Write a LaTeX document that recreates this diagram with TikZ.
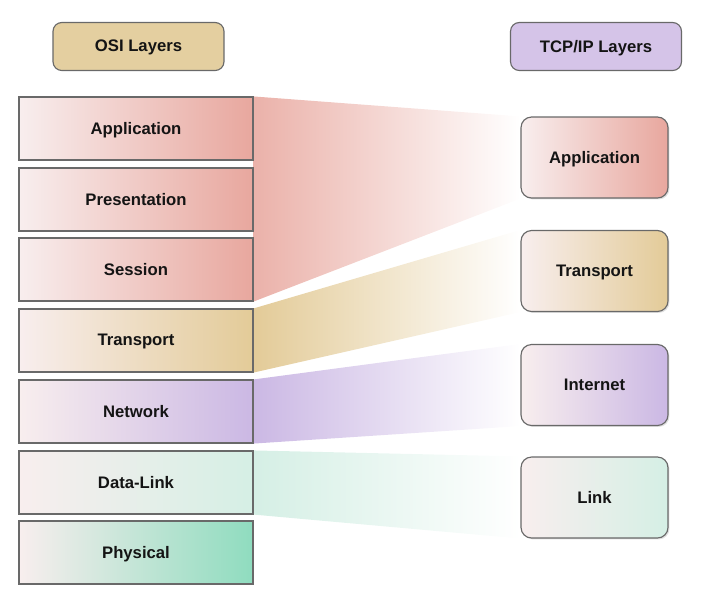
\documentclass[tikz,border=0pt]{standalone}
\usepackage{fontspec}
\setmainfont{Liberation Sans}
\usetikzlibrary{shadows,backgrounds}
\definecolor{boxgray}{RGB}{105,105,105}
\definecolor{paleside}{RGB}{248,238,238}
\definecolor{osired}{RGB}{232,167,158}
\definecolor{ositan}{RGB}{227,203,152}
\definecolor{osililac}{RGB}{203,184,228}
\definecolor{osimint}{RGB}{213,239,229}
\definecolor{osigreen}{RGB}{143,220,191}
\definecolor{headtan}{RGB}{228,207,160}
\definecolor{headlilac}{RGB}{213,196,232}

\begin{document}
\begin{tikzpicture}[x=0.02cm, y=-0.02cm,
    every node/.style={text=black!92, font=\bfseries\fontsize{9.5}{11}\selectfont, text depth=0.5pt},
    header/.style={draw=boxgray, line width=0.65pt, rounded corners=5pt, minimum width=3.42cm, minimum height=0.96cm},
    osibox/.style={draw=boxgray, line width=0.65pt, minimum width=4.68cm, minimum height=1.26cm, left color=paleside, right color=#1,
      drop shadow={shadow xshift=0.5pt, shadow yshift=-0.5pt, opacity=0.2}},
    tcpbox/.style={draw=boxgray, line width=0.65pt, rounded corners=6pt, minimum width=2.94cm, minimum height=1.62cm, left color=paleside, right color=#1,
      drop shadow={shadow xshift=0.8pt, shadow yshift=-0.8pt, opacity=0.25}}
  ]
  \useasboundingbox (0,0) rectangle (703,613);

  % headings
  \node[header, fill=headtan] (osihead) at (138.5,46.5) {OSI Layers};
  \node[header, fill=headlilac] (tcphead) at (596,46.5) {TCP/IP Layers};

  % OSI stack
  \node[osibox=osired] (osiapp) at (136,128.5) {Application};
  \node[osibox=osired] (osipre) at (136,199.5) {Presentation};
  \node[osibox=osired] (osises) at (136,269.5) {Session};
  \node[osibox=ositan] (ositra) at (136,340.5) {Transport};
  \node[osibox=osililac] (osinet) at (136,411.5) {Network};
  \node[osibox=osimint] (osidat) at (136,482.5) {Data-Link};
  \node[osibox=osigreen] (osiphy) at (136,552.5) {Physical};

  % TCP/IP stack
  \node[tcpbox=osired] (tcpapp) at (594.5,157.5) {Application};
  \node[tcpbox=ositan] (tcptra) at (594.5,271) {Transport};
  \node[tcpbox=osililac] (tcpint) at (594.5,385) {Internet};
  \node[tcpbox=osimint] (tcplnk) at (594.5,497.5) {Link};

  % mapping bands
  \begin{scope}[on background layer]
    \shade[left color=osired!88, right color=white] (osiapp.north east) -- (tcpapp.north west) -- (tcpapp.south west) -- (osises.south east) -- cycle;
    \shade[left color=ositan, right color=white] (ositra.north east) -- (tcptra.north west) -- (tcptra.south west) -- (ositra.south east) -- cycle;
    \shade[left color=osililac, right color=white] (osinet.north east) -- (tcpint.north west) -- (tcpint.south west) -- (osinet.south east) -- cycle;
    \shade[left color=osimint, right color=white] (osidat.north east) -- (tcplnk.north west) -- (tcplnk.south west) -- (osidat.south east) -- cycle;
  \end{scope}
\end{tikzpicture}
\end{document}
